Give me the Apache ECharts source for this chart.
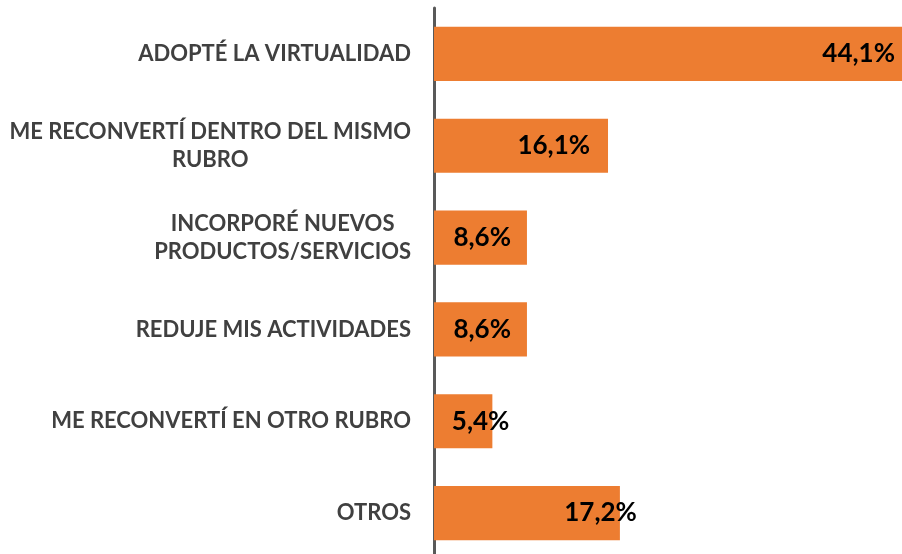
<!DOCTYPE html>
<html>
<head>
<meta charset="utf-8">
<script src="https://cdn.jsdelivr.net/npm/echarts@6/dist/echarts.min.js"></script>
<style>
  html, body { margin: 0; padding: 0; background: #fff; }
  #chart { width: 902px; height: 554px; }
</style>
</head>
<body>
<div id="chart"></div>
<script>
var categories = [
    'ADOPTÉ LA VIRTUALIDAD',
    'ME RECONVERTÍ DENTRO DEL MISMO\nRUBRO',
    'INCORPORÉ NUEVOS\nPRODUCTOS/SERVICIOS',
    'REDUJE MIS ACTIVIDADES',
    'ME RECONVERTÍ EN OTRO RUBRO',
    'OTROS'
];
var values = [44.1, 16.1, 8.6, 8.6, 5.4, 17.2];

var chart = echarts.init(document.getElementById('chart'));

// los rótulos de Excel no quedan todos en el mismo lugar
var labelShift = [-7, -18, -16, -16, 17, 17];

var option = {
    animation: false,
    grid: { left: 434, right: 0, top: 8, bottom: -5, outerBoundsMode: 'none' },
    xAxis: {
        type: 'value',
        min: 0,
        max: 43.3,   // la barra mayor se corta en el borde, como en el original
        show: false
    },
    yAxis: {
        type: 'category',
        inverse: true,
        data: categories,
        axisTick: { show: false },
        axisLine: { lineStyle: { color: '#595959', width: 3 } },
        axisLabel: {
            margin: 23,
            formatter: function (v) {
                return v.split('\n').map(function (l) { return '{c|' + l + '}'; }).join('\n');
            },
            rich: {
                c: {
                    align: 'center',
                    fontFamily: 'Lato',
                    fontWeight: 'bold',
                    fontSize: 22,
                    lineHeight: 28,
                    color: '#404040'
                }
            }
        }
    },
    series: [{
        type: 'bar',
        barCategoryGap: '41%',
        clip: true,
        itemStyle: { color: '#ED7D31' },
        data: values.map(function (v, i) {
            return { value: v, label: { offset: [labelShift[i], 0] } };
        }),
        label: {
            show: true,
            position: 'insideRight',
            distance: 0,
            fontFamily: 'Lato',
            fontWeight: 'bold',
            fontSize: 26,
            color: '#000',
            formatter: function (p) { return p.value.toFixed(1).replace('.', ',') + '%'; }
        }
    }]
};
chart.setOption(option);
</script>
</body>
</html>
